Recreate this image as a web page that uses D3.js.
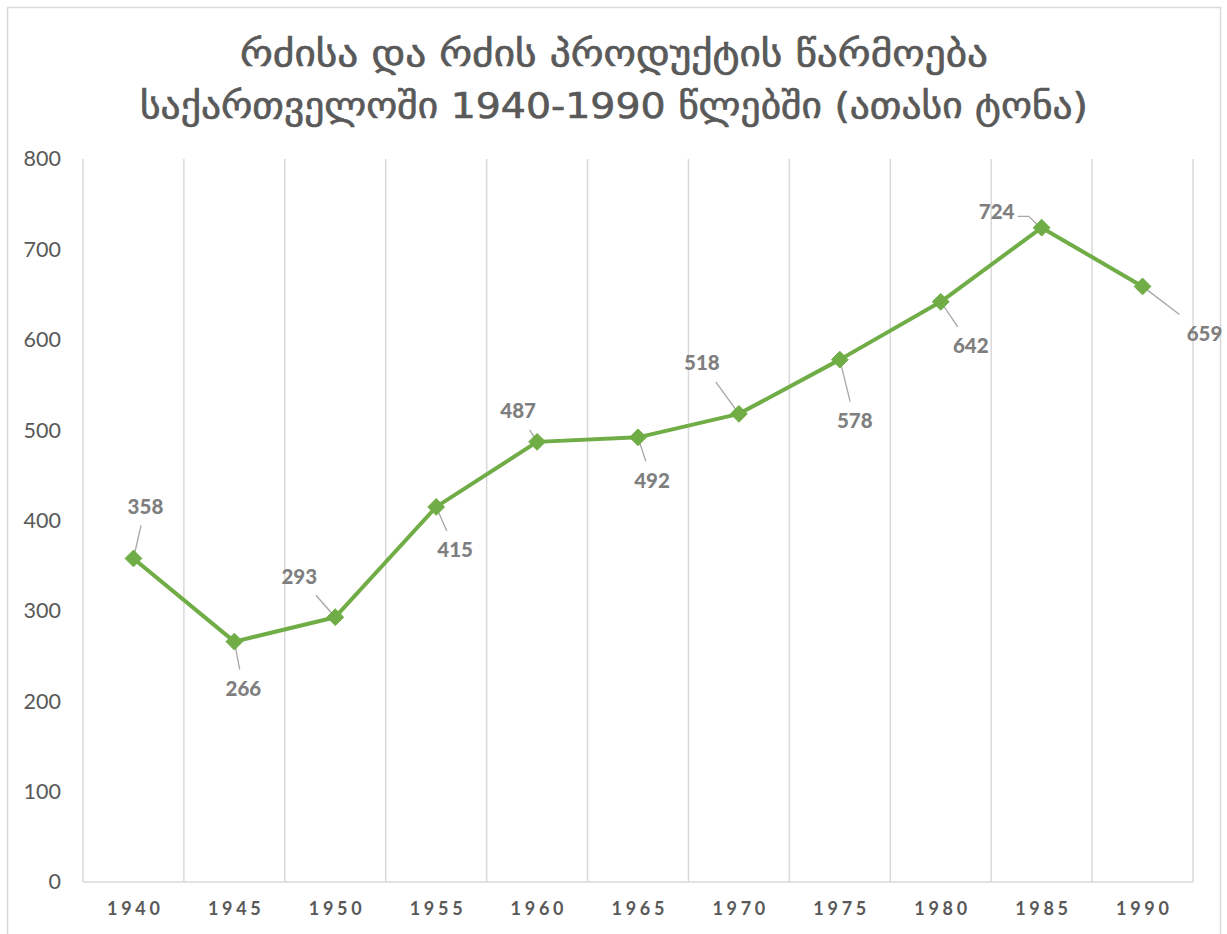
<!DOCTYPE html>
<html>
<head>
<meta charset="utf-8">
<script src="https://cdn.jsdelivr.net/npm/d3@7"></script>
<style>
  body { margin: 0; background: #fff; }
  text { font-family: Lato, "Open Sans", sans-serif; }
</style>
</head>
<body>
<svg id="chart"></svg>
<script>
var width = 1227,
    height = 934;

// data
var years = ["1940", "1945", "1950", "1955", "1960", "1965", "1970", "1975", "1980", "1985", "1990"];
var values = [358, 266, 293, 415, 487, 492, 518, 578, 642, 724, 659];
var yTicks = [0, 100, 200, 300, 400, 500, 600, 700, 800];
var titleLines = ["რძისა და რძის პროდუქტის წარმოება", "საქართველოში 1940-1990 წლებში (ათასი ტონა)"];

// where each data label sits relative to its point (dx, dy)
var labelOffsets = [[12, -52], [9, 47], [-36, -41], [19, 43], [-19, -31], [14, 43],
                    [-37, -51], [15, 61], [30, 44], [-45, -16], [62, 47]];

var svg = d3.select("#chart").attr("width", width).attr("height", height);

svg.append("rect").attr("width", width).attr("height", height).attr("fill", "#fff");
// chart area border
svg.append("rect")
    .attr("x", 7.5).attr("y", 7.5)
    .attr("width", 1213).attr("height", 960)
    .attr("fill", "none")
    .attr("stroke", "#d9d9d9")
    .attr("stroke-width", 1.5);

// title
var titleW = [748, 948];
svg.selectAll(".title").data(titleLines)
    .enter()
    .append("text")
        .attr("class", "title")
        .attr("x", 614)
        .attr("y", function(d, i) { return 66 + i * 52; })
        .attr("text-anchor", "middle")
        .attr("textLength", function(d, i) { return titleW[i]; })
        .attr("lengthAdjust", "spacingAndGlyphs")
        .style("font-family", "'DejaVu Sans Condensed', 'DejaVu Sans', sans-serif")
        .style("font-size", "36px")
        .style("fill", "#595959")
        .style("stroke", "#595959")
        .style("stroke-width", 0.6)
        .text(function(d) { return d; });

var x = d3.scaleBand().domain(years).range([83, 1193]);
var y = d3.scaleLinear().domain([0, 800]).range([882, 159]);

// vertical gridlines on category boundaries
var bounds = years.map(function(d) { return x(d); }).concat([x.range()[1]]);
svg.selectAll(".grid").data(bounds)
    .enter()
    .append("line")
        .attr("x1", function(d) { return d; })
        .attr("x2", function(d) { return d; })
        .attr("y1", y(800))
        .attr("y2", y(0))
        .style("stroke", "#d9d9d9")
        .style("stroke-width", 1.5);

svg.append("line")
    .attr("x1", 83).attr("x2", 1193)
    .attr("y1", y(0)).attr("y2", y(0))
    .style("stroke", "#d9d9d9")
    .style("stroke-width", 1.5);

// y axis labels
var yAxis = svg.append("g")
    .attr("transform", "translate(61,0)")
    .call(d3.axisLeft(y).tickValues(yTicks).tickSize(0).tickPadding(0));
yAxis.select(".domain").remove();
yAxis.selectAll("text")
    .style("font-family", "Lato, sans-serif")
    .style("font-size", "21.5px")
    .style("fill", "#595959");

// x axis labels
var xAxis = svg.append("g")
    .attr("transform", "translate(0," + y(0) + ")")
    .call(d3.axisBottom(x).tickSize(0).tickPadding(20));
xAxis.select(".domain").remove();
xAxis.selectAll("text")
    .attr("dx", "1.8")
    .style("font-family", "Lato, sans-serif")
    .style("font-weight", "bold")
    .style("font-size", "18px")
    .style("letter-spacing", "3.7px")
    .style("fill", "#595959");

var px = function(d, i) { return x(years[i]) + x.bandwidth() / 2; };
var py = function(d) { return y(d); };

// leader lines
var leaders = values.map(function(v, i) {
    var x0 = px(v, i), y0 = py(v);
    var lx = x0 + labelOffsets[i][0], ly = y0 + labelOffsets[i][1];
    var dx = x0 - lx, dy = y0 - ly;
    var t = Math.min(27 / Math.abs(dx || 1e-6), 19 / Math.abs(dy || 1e-6));
    var sx = lx + dx * t, sy = ly + dy * t;
    var len = Math.sqrt(dx * dx + dy * dy);
    var ex = x0 - dx / len * 2, ey = y0 - dy / len * 2;
    return { sx: sx, sy: sy, ex: ex, ey: ey, elbow: Math.abs(dy) < 20 };
});
svg.selectAll(".leader").data(leaders)
    .enter()
    .append("path")
        .attr("d", function(d) {
            if (d.elbow) {
                return "M" + (d.sx - 6) + "," + (d.sy - 5) + "H" + (d.sx + 5) + "L" + d.ex + "," + d.ey;
            }
            return "M" + d.sx + "," + d.sy + "L" + d.ex + "," + d.ey;
        })
        .style("fill", "none")
        .style("stroke", "#a6a6a6")
        .style("stroke-width", 1.3);

// line
var line = d3.line().x(px).y(py);
svg.append("path")
    .datum(values)
    .attr("d", line)
    .style("fill", "none")
    .style("stroke", "#70ad47")
    .style("stroke-width", 4)
    .style("stroke-linejoin", "round");

// diamond markers
svg.selectAll(".marker").data(values)
    .enter()
    .append("path")
        .attr("d", d3.symbol().type(d3.symbolDiamond2).size(180))
        .attr("transform", function(d, i) { return "translate(" + px(d, i) + "," + py(d) + ")"; })
        .style("fill", "#70ad47")
        .style("stroke", "#70ad47")
        .style("stroke-width", 1);

// data labels
svg.selectAll(".dlabel").data(values)
    .enter()
    .append("text")
        .attr("x", function(d, i) { return px(d, i) + labelOffsets[i][0]; })
        .attr("y", function(d, i) { return py(d) + labelOffsets[i][1]; })
        .attr("text-anchor", "middle")
        .attr("dy", "0.36em")
        .style("font-family", "Lato, sans-serif")
        .style("font-weight", "900")
        .style("font-size", "20.5px")
        .style("fill", "#7f7f7f")
        .text(function(d) { return d; });
</script>
</body>
</html>
